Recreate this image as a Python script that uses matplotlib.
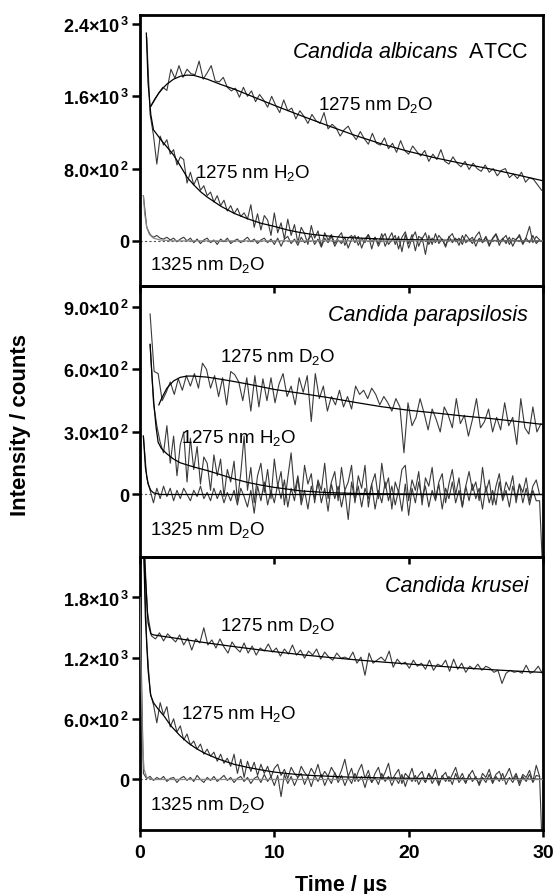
import numpy as np
import matplotlib.pyplot as plt

plt.rcParams['font.family'] = ['Liberation Sans', 'DejaVu Sans']
plt.rcParams['mathtext.fontset'] = 'custom'
plt.rcParams['mathtext.rm'] = 'Liberation Sans'
plt.rcParams['mathtext.it'] = 'Liberation Sans:italic'
plt.rcParams['mathtext.bf'] = 'Liberation Sans:bold'
plt.rcParams['mathtext.default'] = 'regular'

# ---- Candida albicans ATCC ----
alb_d2o = [1490, 1560, 1640, 1700, 1665, 1900, 1800, 1940, 1810, 1900,
           1850, 1840, 1990, 1790, 1860, 1940, 1770, 1760, 1810, 1700,
           1660, 1690, 1590, 1700, 1600, 1660, 1540, 1620, 1560, 1480,
           1600, 1500, 1420, 1560, 1440, 1470, 1350, 1440, 1380, 1300,
           1400, 1330, 1300, 1420, 1240, 1290, 1250, 1160, 1230, 1270,
           1180, 1120, 1210, 1130, 1070, 1190, 1080, 1060, 1140, 1020,
           1080, 980, 1110, 1000, 960, 1050, 990, 940, 1000, 880,
           960, 900, 1010, 880, 850, 930, 860, 820, 880, 790,
           860, 800, 770, 840, 760, 800, 720, 780, 800, 700,
           740, 690, 760, 650, 700, 680, 620, 560]
alb_h2o = [2250, 1400, 1170, 850, 1160, 1060, 1120, 960, 1010, 840,
           930, 900, 640, 760, 620, 700, 560, 610, 500, 540,
           430, 500, 390, 450, 330, 390, 300, 360, 270, 310,
           240, 400, 150, 300, 120, 280, 230, 60, 310, 90,
           200, 20, 240, 60, 180, -20, 150, 80, -40, 170,
           30, 110, -60, 90, 10, 70, -30, 40, 90, -50,
           30, 60, -20, 50, -80, 20, 70, -10, 40, -60,
           30, 80, -40, 10, 60, -90, 40, 100, -30, 70,
           -110, 50, 20, 90, -40, 30, -20, 60, 10, -50,
           40, 80, -10, 30, -40, 70, 20, -30, 50, 100,
           -20, 40, -60, 30, 80, -10, 20, 60, -40, 30,
           10, 70, -30, 40, 160, -20, 50, 10]
alb_1325 = [500, 150, 70, 40, 60, 30, 20, 40, 10, 30,
            -10, 20, 40, 0, 30, -20, 20, -30, 10, 30,
            -20, 10, -40, 20, -10, 30, -30, 0, 20, -20,
            10, 40, -10, 20, -30, 10, 30, -20, 20, -40,
            30, -60, 20, 50, -30, 20, -50, 40, -20, 10,
            60, -40, 20, -70, 30, -20, 50, -60, 10, -30,
            40, -80, 20, 60, -50, 30, -20, 70, -90, 40,
            -30, 80, -60, 20, 90, -40, 50, -120, 70, -80,
            30, 100, -60, 40, -150, 60, -40, 80, -30, 20,
            -70, 50, -20, 30, -50, 60, -20, 10, 40, -60,
            30, -20, 50, -40, 20, 70, -50, 30, -30, 40,
            -60, 20, 50, -40, 30, -20, 60, -30, 10]
alb_d2o_fit_t = [0.8, 1.1, 1.4, 1.7, 2.0, 2.5, 3.0, 3.5, 4.0, 5, 6, 7, 8, 9, 10,
                 12, 14, 16, 18, 20, 22, 24, 26, 28, 30]
alb_d2o_fit = [1490, 1570, 1635, 1690, 1735, 1790, 1822, 1835, 1832, 1790, 1732,
               1680, 1620, 1560, 1500, 1385, 1275, 1168, 1072, 990, 918, 856,
               798, 733, 665]
alb_h2o_fit_t = [0.47, 0.6, 0.8, 1.0, 1.3, 1.6, 2.0, 2.5, 3.0, 3.5, 4.0, 4.5, 5,
                 6, 7, 8, 9, 10, 11, 12, 13, 15, 18, 22, 30]
alb_h2o_fit = [2300, 1750, 1400, 1230, 1170, 1110, 1040, 950, 830, 705, 620, 545,
               485, 385, 305, 245, 195, 160, 120, 90, 68, 40, 20, 8, 0]
alb_1325_fit_t = [0.25, 0.35, 0.5, 0.7, 1.0, 1.5, 2.5, 30]
alb_1325_fit = [500, 300, 150, 70, 30, 10, 0, 0]

# ---- Candida parapsilosis ----
par_d2o = [866, 590, 580, 450, 490, 540, 480, 555, 500, 570,
           520, 580, 510, 630, 600, 510, 570, 470, 560, 430,
           590, 575, 540, 450, 560, 400, 570, 420, 555, 450,
           560, 440, 530, 580, 470, 520, 430, 560, 490, 570,
           350, 580, 460, 520, 400, 470, 430, 500, 420, 470,
           410, 520, 480, 500, 460, 510, 480, 430, 470, 440,
           400, 460, 420, 200, 440, 330, 370, 460, 390, 310,
           410, 360, 300, 420, 380, 320, 460, 340, 380, 280,
           360, 460, 320, 350, 410, 300, 370, 310, 440, 330,
           370, 240, 460, 320, 290, 420, 300, 340]
par_h2o = [720, 440, 330, 250, 200, 330, 150, 280, 90, 240,
           300, 60, 270, 120, 230, 50, 180, 150, 20, 190,
           90, 170, -10, 120, 60, 160, -30, 100, 280, 20,
           130, -40, 90, 150, 10, 120, -20, 170, 40, 110,
           -50, 80, 200, 10, 90, -30, 140, 50, 100, -40,
           70, 20, 150, -20, 60, 110, -30, 130, 20, 60,
           140, -40, 90, 30, 140, -60, 50, 100, -20, 150,
           30, 80, -70, 60, 10, 120, 140, -30, 70, 20,
           110, -50, 80, 40, 130, -20, 60, 100, -40, 50,
           120, 0, 80, -60, 40, 110, 20, 60, -30, 130,
           10, 70, -50, 40, 100, -20, 60, 20, 90, -40,
           50, 10, 80, -30, 40, 70, 0]
par_1325 = [280, 80, 20, -40, 30, -20, 40, -10, 30, -30,
            20, -20, 30, 0, -30, 20, -10, 40, -20, 10,
            -30, 30, -20, 20, -40, 10, -30, 20, -50, 30,
            -10, -60, 20, -90, 40, -30, 60, -50, 20, -40,
            50, -20, 70, -60, 30, -30, 80, -50, 20, -70,
            40, -20, 60, -40, 30, -80, 50, -20, 40, -60,
            20, -120, 60, -30, 40, -60, 30, -20, 50, -70,
            20, -40, 60, -30, 40, -50, 20, -80, 50, -100,
            30, -40, 60, -20, 40, -60, 20, -30, 50, -70,
            30, -20, 60, -40, 20, -60, 40, -30, 50, -20,
            30, -70, 40, -40, 20, -50, 60, -30, 20, -60,
            40, -20, 50, -40, 30, -50, 20, -30, -30, -400]
par_d2o_fit_t = [1.4, 1.6, 2.0, 2.5, 3, 3.5, 4, 5, 6, 7, 8, 9, 10, 12, 14, 16,
                 18, 20, 22, 24, 26, 28, 30]
par_d2o_fit = [430, 460, 510, 545, 562, 568, 568, 563, 553, 542, 530, 517, 504,
               485, 465, 442, 421, 404, 391, 377, 365, 351, 336]
par_h2o_fit_t = [0.75, 0.9, 1.05, 1.2, 1.35, 1.6, 2.0, 2.5, 3, 4, 5, 6, 7, 8, 9,
                 10, 12, 14, 16, 20, 30]
par_h2o_fit = [720, 560, 420, 320, 250, 220, 195, 170, 152, 132, 115, 95, 75, 58,
               45, 34, 17, 9, 5, 2, 0]
par_1325_fit_t = [0.25, 0.4, 0.6, 0.8, 1.0, 1.5, 30]
par_1325_fit = [280, 130, 50, 20, 8, 0, 0]

# ---- Candida krusei ----
kru_d2o = [2500, 1650, 1420, 1390, 1450, 1370, 1440, 1400, 1360, 1430,
           1330, 1400, 1280, 1390, 1350, 1500, 1330, 1380, 1300, 1390,
           1310, 1250, 1360, 1300, 1260, 1350, 1250, 1320, 1230, 1300,
           1270, 1340, 1260, 1300, 1220, 1290, 1240, 1330, 1230, 1280,
           1200, 1270, 1230, 1290, 1190, 1260, 1210, 1180, 1250, 1200,
           1210, 1190, 1260, 1150, 1210, 1030, 1250, 1150, 1180, 1210,
           1170, 1270, 1110, 1190, 1140, 1160, 1100, 1180, 1120, 1150,
           1090, 1180, 1080, 1140, 1120, 1180, 1070, 1190, 1090, 1150,
           1060, 1120, 1090, 1140, 1080, 1120, 1100, 1060, 1080, 950,
           1050, 1080, 1060, 1070, 1050, 1130, 1050, 1070, 1120, 1050]
kru_h2o = [2400, 1350, 860, 740, 560, 760, 640, 720, 520, 600,
           470, 530, 390, 450, 340, 380, 300, 350, 250, 300,
           230, 270, 180, 250, 160, 210, 130, 250, 60, 200,
           20, 180, 80, 170, 40, 150, 60, 130, 20, 110,
           150, 40, 100, 10, 120, 60, 20, 130, 70, 30,
           110, 50, 150, 20, 80, 30, 120, 60, 10, 90,
           200, 30, 110, -20, 80, 150, 10, 90, -30, 60,
           120, 0, 70, 160, -10, 50, 100, -40, 60, 20,
           110, -20, 40, 80, -30, 60, 10, 100, -40, 30,
           70, -20, 50, 120, 0, 60, -30, 40, 90, 10,
           -40, 60, 20, 100, -20, 50, 80, -10, 40, 110,
           0, 60, -30, 50, 20, 90, -20, 140, 30]
kru_1325 = [1800, 60, 10, 30, -10, 20, 0, 30, -20, 10,
            20, -30, 10, 30, -10, 20, -20, 40, 0, -30,
            20, -10, 30, -20, 10, 40, -10, 20, -30, 10,
            30, -20, 20, -40, 10, 30, -30, 50, -20, 30,
            -60, 40, -170, 50, -40, 30, -60, 20, 60, -50,
            30, -70, 40, -20, 50, -60, 20, -40, 70, -30,
            40, -60, 20, -40, 60, -20, 30, -80, 40, -30,
            20, -50, 60, -20, 30, -60, 20, -40, 50, -70,
            30, -20, 40, -50, 20, -30, 60, -40, 20, -60,
            40, -20, 30, -50, 60, -30, 20, -40, 50, -20,
            30, -60, 20, -30, 50, -40, 30, -20, 60, -50,
            20, -30, 40, -60, 30, -20, 50, -30, 40, 30,
            -900]
kru_d2o_fit_t = [0.25, 0.4, 0.6, 0.8, 1, 2, 3, 4, 5, 6, 7, 8, 9, 10, 12, 14, 16,
                 18, 20, 22, 24, 26, 28, 30]
kru_d2o_fit = [2500, 2000, 1550, 1440, 1430, 1410, 1390, 1370, 1350, 1332, 1314,
               1297, 1280, 1264, 1234, 1208, 1184, 1162, 1142, 1122, 1104, 1087,
               1072, 1059]
kru_h2o_fit_t = [0.25, 0.4, 0.6, 0.8, 1.0, 1.3, 1.8, 2.3, 3.0, 3.6, 4.2, 4.8, 5.5,
                 6.1, 7, 8, 9, 10, 11, 12, 13, 15, 18, 22, 26, 30]
kru_h2o_fit = [2400, 1600, 1080, 830, 760, 705, 625, 530, 430, 360, 305, 260, 220,
               190, 150, 120, 95, 73, 58, 46, 38, 26, 15, 8, 4, 2]
kru_1325_fit_t = [0, 0.1, 0.2, 0.3, 0.5, 1.0, 30]
kru_1325_fit = [1800, 900, 300, 100, 20, 0, 0]

fig = plt.figure(figsize=(5.55, 8.95), dpi=100)

panels = [
    dict(rect=[0.2523, 0.6793, 0.726, 0.3028], ylim=(-500, 2500),
         yticks=[0, 800, 1600, 2400],
         ylabels=['0', r'8.0×10$^{\,2}$', r'1.6×10$^{\,3}$', r'2.4×10$^{\,3}$'],
         traces=[(0.8, 0.3, alb_d2o), (0.5, 0.25, alb_h2o), (0.25, 0.25, alb_1325)],
         fits=[(alb_d2o_fit_t, alb_d2o_fit, 'black'),
               (alb_h2o_fit_t, alb_h2o_fit, 'black'),
               (alb_1325_fit_t, alb_1325_fit, '#888888')],
         title=r'$\mathit{Candida\ albicans}$  ATCC', title_y=2035, title_style='normal',
         labels=[(13.25, 1460, 'D'), (4.07, 705, 'H'), (0.72, -310, 'X')]),
    dict(rect=[0.2523, 0.3765, 0.726, 0.3028], ylim=(-300, 1000),
         yticks=[0, 300, 600, 900],
         ylabels=['0', r'3.0×10$^{\,2}$', r'6.0×10$^{\,2}$', r'9.0×10$^{\,2}$'],
         traces=[(0.75, 0.3, par_d2o), (0.75, 0.25, par_h2o), (0.25, 0.25, par_1325)],
         fits=[(par_d2o_fit_t, par_d2o_fit, 'black'),
               (par_h2o_fit_t, par_h2o_fit, 'black'),
               (par_1325_fit_t, par_1325_fit, 'black')],
         title='Candida parapsilosis', title_y=835, title_style='italic',
         labels=[(5.93, 639, 'D'), (3.08, 251, 'H'), (0.72, -189, 'X')]),
    dict(rect=[0.2523, 0.0715, 0.726, 0.3050], ylim=(-500, 2200),
         yticks=[0, 600, 1200, 1800],
         ylabels=['0', r'6.0×10$^{\,2}$', r'1.2×10$^{\,3}$', r'1.8×10$^{\,3}$'],
         traces=[(0.25, 0.3, kru_d2o), (0.25, 0.25, kru_h2o), (0.0, 0.25, kru_1325)],
         fits=[(kru_d2o_fit_t, kru_d2o_fit, 'black'),
               (kru_h2o_fit_t, kru_h2o_fit, 'black'),
               (kru_1325_fit_t, kru_1325_fit, '#888888')],
         title='Candida krusei', title_y=1862, title_style='italic',
         labels=[(5.93, 1475, 'D'), (3.08, 605, 'H'), (0.72, -288, 'X')]),
]

label_text = {'D': '1275 nm D$_2$O', 'H': '1275 nm H$_2$O', 'X': '1325 nm D$_2$O'}

for i, p in enumerate(panels):
    ax = fig.add_axes(p['rect'], facecolor='none')
    ax.axhline(0, color='#555555', lw=0.8, ls=(0, (2, 2)), zorder=1)
    for t0, step, vals in p['traces']:
        t = t0 + step * np.arange(len(vals))
        ax.plot(t, vals, color='#3a3a3a', lw=0.8, zorder=2)
    for ft, fv, c in p['fits']:
        ax.plot(ft, fv, color=c, lw=0.9, zorder=3)
    ax.set_xlim(0, 30)
    ax.set_ylim(*p['ylim'])
    ax.set_xticks([0, 10, 20, 30])
    ax.set_yticks(p['yticks'])
    ax.set_yticklabels(p['ylabels'], fontweight='bold', fontsize=13)
    for s in ax.spines.values():
        s.set_linewidth(2.0)
    ax.tick_params(axis='y', direction='out', length=6, width=1.8, pad=2)
    ax.tick_params(axis='x', direction='out', length=5, width=1.8, pad=5,
                   labelsize=14)
    if i < 2:
        ax.tick_params(axis='x', labelbottom=False)
    else:
        for lab in ax.get_xticklabels():
            lab.set_fontweight('bold')
    ax.text(28.9, p['title_y'], p['title'], ha='right', va='baseline',
            fontsize=15.5, style=p['title_style'])
    for lx, ly, key in p['labels']:
        ax.text(lx, ly, label_text[key], ha='left', va='baseline', fontsize=13.5)

fig.text(21 / 555, 1 - 425 / 895, 'Intensity / counts', rotation=90,
         ha='center', va='center', fontsize=16, fontweight='bold')
fig.text(341 / 555, 1 - 886 / 895, 'Time / µs', ha='center', va='center',
         fontsize=15.5, fontweight='bold')

fig.savefig('out.png', dpi=100)
